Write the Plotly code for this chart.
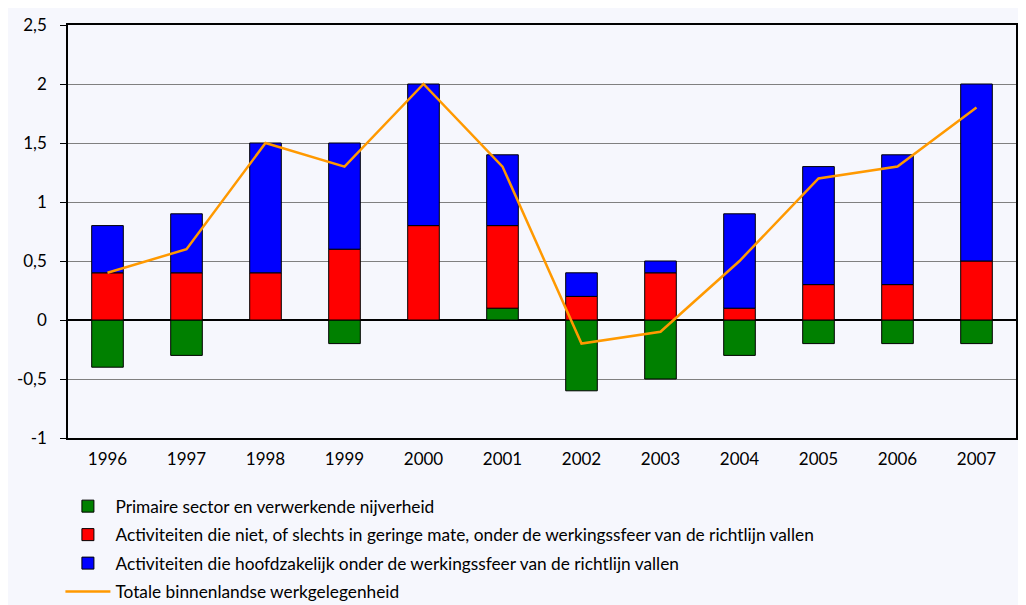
import plotly.graph_objects as go

years = ["1996", "1997", "1998", "1999", "2000", "2001", "2002", "2003", "2004", "2005", "2006", "2007"]
primaire = [-0.4, -0.3, 0.0, -0.2, 0.0, 0.1, -0.6, -0.5, -0.3, -0.2, -0.2, -0.2]
niet_richtlijn = [0.4, 0.4, 0.4, 0.6, 0.8, 0.7, 0.2, 0.4, 0.1, 0.3, 0.3, 0.5]
hoofdzakelijk = [0.4, 0.5, 1.1, 0.9, 1.2, 0.6, 0.2, 0.1, 0.8, 1.0, 1.1, 1.5]
totaal = [0.4, 0.6, 1.5, 1.3, 2.0, 1.3, -0.2, -0.1, 0.5, 1.2, 1.3, 1.8]

names = [
    "Primaire sector en verwerkende nijverheid",
    "Activiteiten die niet, of slechts in geringe mate, onder de werkingssfeer van de richtlijn vallen",
    "Activiteiten die hoofdzakelijk onder de werkingssfeer van de richtlijn vallen",
    "Totale binnenlandse werkgelegenheid",
]
yticks = [-1, -0.5, 0, 0.5, 1, 1.5, 2, 2.5]
yticktext = ["-1", "-0,5", "0", "0,5", "1", "1,5", "2", "2,5"]

bg = "#F6F7FD"
font = "Lato, 'Open Sans', sans-serif"

fig = go.Figure()
for i, (vals, col) in enumerate([(primaire, "#008000"), (niet_richtlijn, "#FF0000"), (hoofdzakelijk, "#0000FF")]):
    fig.add_trace(go.Bar(
        x=years, y=vals, name=names[i], marker=dict(color=col, line=dict(color="black", width=1)),
        width=0.4, legendgroup=f"g{i}",
    ))
fig.add_trace(go.Scatter(
    x=years, y=totaal, name=names[3], mode="lines",
    line=dict(color="#FF9900", width=2.5), legendgroup="g3",
))

fig.update_layout(
    width=1026, height=605,
    barmode="relative",
    bargap=0.6,
    paper_bgcolor=bg, plot_bgcolor=bg,
    margin=dict(l=60, r=18, t=17, b=175, autoexpand=False),
    font=dict(family=font, size=17, color="black"),
    showlegend=True,
    legend=dict(
        x=-0.008, y=-0.122, xanchor="left", yanchor="top",
        orientation="v", traceorder="grouped", tracegroupgap=3,
        font=dict(size=17.3), bgcolor="rgba(0,0,0,0)", itemwidth=45,
    ),
    xaxis=dict(
        type="category", range=[-0.5, 11.5], automargin=False,
        showline=True, linecolor="black", linewidth=1.5, mirror=True,
        ticks="", showgrid=False, tickfont=dict(size=17), ticklabelstandoff=5,
    ),
    xaxis2=dict(
        overlaying="x", anchor="free", position=1 / 3.5, automargin=False,
        range=[-0.5, 11.5], tickvals=[k + 0.5 for k in range(11)],
        showticklabels=False, ticks="outside", ticklen=6, tickcolor="black",
        showline=False, showgrid=False, zeroline=False,
    ),
    yaxis=dict(
        range=[-1, 2.5], tickvals=yticks, ticktext=yticktext, automargin=False,
        showline=True, linecolor="black", linewidth=1.5, mirror=True,
        ticks="outside", ticklen=6, tickcolor="black",
        showgrid=True, gridcolor="#808080", gridwidth=1,
        zeroline=True, zerolinecolor="black", zerolinewidth=1.5,
        tickfont=dict(size=17), ticklabelstandoff=10,
    ),
)

fig.write_html("out.html")
